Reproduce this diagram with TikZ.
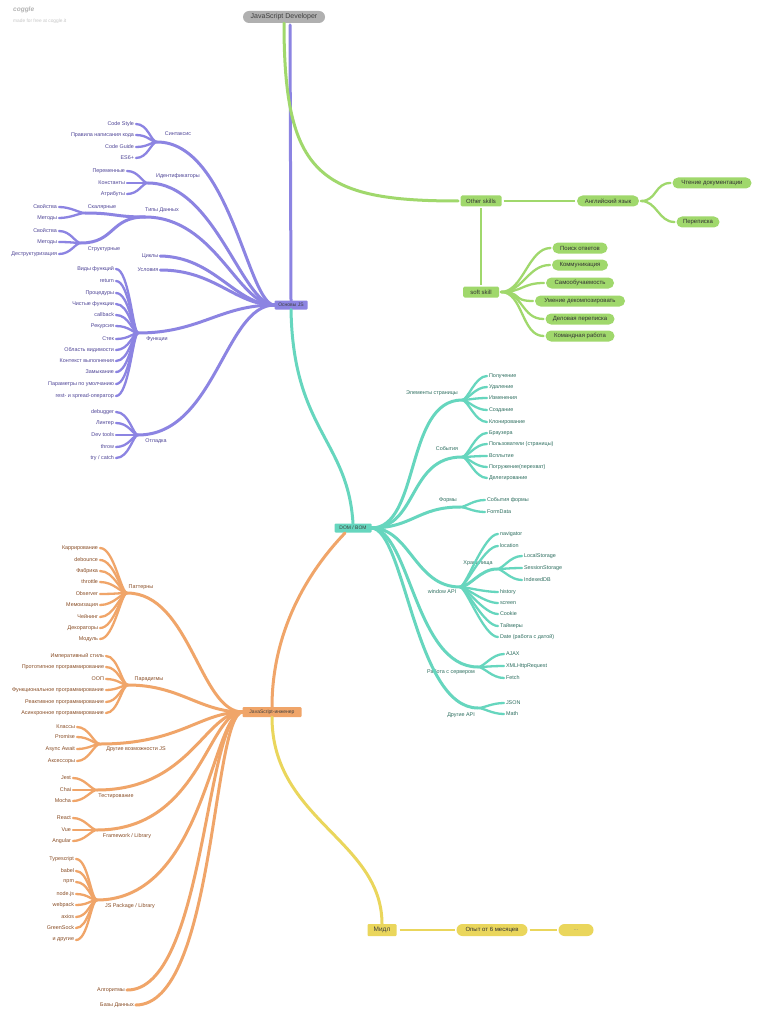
\documentclass[tikz,border=0pt]{standalone}
\usepackage{fontspec}
\setmainfont{Liberation Sans}
\definecolor{cP}{RGB}{140,132,226}
\definecolor{cPt}{RGB}{78,68,150}
\definecolor{cT}{RGB}{102,214,190}
\definecolor{cTt}{RGB}{45,110,95}
\definecolor{cO}{RGB}{240,165,105}
\definecolor{cOt}{RGB}{135,75,35}
\definecolor{cY}{RGB}{234,214,92}
\definecolor{cG}{RGB}{160,216,108}
\definecolor{cGr}{RGB}{176,176,176}
\tikzset{
  lab/.style={inner sep=0.8pt, outer sep=1.2pt, font=\fontsize{5.4}{6}\selectfont},
  plab/.style={lab, text=cPt},
  tlab/.style={lab, text=cTt},
  olab/.style={lab, text=cOt},
  br/.style={line width=3pt, line cap=round},
  lf/.style={line width=2.3pt, line cap=round},
  lvone/.style={font=\fontsize{5}{6}\selectfont, text=black!75, minimum height=9pt, inner xsep=2pt, inner ysep=0pt, rounded corners=1pt, outer sep=0pt},
  gbox/.style={fill=cG, text=black!80, font=\fontsize{6}{7}\selectfont, inner xsep=2pt, inner ysep=0pt, minimum height=11pt, rounded corners=1.5pt, outer sep=2pt},
  gpill/.style={gbox, rounded corners=5.5pt},
  ypill/.style={fill=cY, text=black!80, font=\fontsize{6}{7}\selectfont, inner sep=0pt, minimum height=12pt, rounded corners=6pt, outer sep=2pt},
}
\begin{document}
\begin{tikzpicture}[x=1pt,y=-1pt]
\useasboundingbox (0,0) rectangle (768,1024);
\fill[white] (0,0) rectangle (768,1024);

% logo
\node[anchor=west, inner sep=0, text=black!30, font=\fontsize{6.5}{7}\selectfont\itshape\bfseries] (logo) at (13,10) {coggle};
\node[anchor=west, inner sep=0, text=black!22, font=\fontsize{4.8}{5}\selectfont] (logo2) at (13,21) {made for free at coggle.it};

% main nodes
\node[fill=cGr, text=black!75, rounded corners=6pt, minimum width=82pt, minimum height=12pt, inner sep=0pt, font=\fontsize{7}{8}\selectfont] (root) at (284,17) {JavaScript Developer};
\node[lvone, fill=cP, minimum width=33pt] (osn) at (291,305) {Основы JS};
\node[lvone, fill=cT, minimum width=37pt] (dom) at (353,528) {DOM / BOM};
\node[lvone, fill=cO, minimum width=59pt, minimum height=10pt] (eng) at (272,712) {JavaScript-инженер};
\node[lvone, fill=cY, minimum width=29pt, minimum height=12pt, font=\fontsize{6.5}{7}\selectfont] (midl) at (382,930) {Мидл};
\node[ypill, minimum width=71pt] (exp) at (492,930) {Опыт от 6 месяцев};
\node[ypill, minimum width=35pt, text=black!45] (dots) at (576,930) {...};

\coordinate (rootP) at (290,25);
\coordinate (domO) at (345,533);

% trunk connectors
\draw[cP, br] (rootP) -- (osn.north);
\draw[cG, br] (root.south) .. controls (284,175) and (320,201) .. (458,201) coordinate (osin);
\draw[cT, br] (osn.south) .. controls (293,430) and (348,440) .. (dom.north);
\draw[cO, br] (domO) .. controls (300,580) and (272,640) .. (eng.north);
\draw[cY, br] (eng.south) .. controls (272,820) and (382,840) .. (midl.north);
\draw[cY, line width=2pt] (midl.east) ++(3,0) -- (exp.west);
\draw[cY, line width=2pt] (exp.east) -- (dots.west);

% ---------------- green ----------------
\node[gbox, minimum width=41pt] (os) at (481,201) {Other skills};
\node[gpill, minimum width=62pt] (en) at (608,201) {Английский язык};
\node[gpill, minimum width=79pt] (rd) at (712,183) {Чтение документации};
\node[gpill, minimum width=43pt] (pp) at (698,222) {Переписка};
\node[gbox, minimum width=36pt] (ss) at (481,292) {soft skill};
\draw[cG, line width=2.4pt] (os.east) -- (en.west);
\draw[cG, line width=2.4pt] (os.south) -- (ss.north);
\foreach \n in {rd,pp}{
  \draw[cG, lf] (en.east) .. controls +(16,0) and +(-16,0) .. (\n.west);
}
\foreach \t/\y/\w [count=\i] in {Поиск ответов/248/55, Коммуникация/265/56, Самообучаемость/283/68, Умение декомпозировать/301/90, Деловая переписка/319/69, Командная работа/336/69}{
  \node[gpill, minimum width=\w pt] (sk\i) at (580,\y) {\t};
  \draw[cG, lf] (ss.east) .. controls +(22,0) and +(-22,0) .. (sk\i.west);
}

% ---------------- purple ----------------
\coordinate (jsyn) at (157,142);
\coordinate (jid) at (148,183);
\coordinate (jtd) at (145,217);
\coordinate (jsc) at (85,213);
\coordinate (jst) at (81,243);
\coordinate (jfn) at (138,333);
\coordinate (jot) at (138,435);

\node[plab] (lsyn) at (178,134) {Синтаксис};
\node[plab] (lid) at (178,176) {Идентификаторы};
\node[plab] (ltd) at (162,210) {Типы Данных};
\node[plab] (lsc) at (102,207) {Скалярные};
\node[plab] (lst) at (104,249) {Структурные};
\node[plab] (lcy) at (150,256) {Циклы};
\node[plab] (lus) at (148,270) {Условия};
\node[plab] (lfn) at (157,339) {Функции};
\node[plab] (lot) at (156,441) {Отладка};

\draw[cP, br] (jsyn) .. controls (230,142) and (248,305) .. (osn.west);
\draw[cP, br] (jid) .. controls (215,183) and (242,305) .. (osn.west);
\draw[cP, br] (jtd) .. controls (215,217) and (238,305) .. (osn.west);
\draw[cP, br] (lcy.east) .. controls (215,257) and (235,305) .. (osn.west);
\draw[cP, br] (lus.east) .. controls (215,270) and (235,305) .. (osn.west);
\draw[cP, br] (jfn) .. controls (200,333) and (220,305) .. (osn.west);
\draw[cP, br] (jot) .. controls (215,435) and (225,305) .. (osn.west);
\draw[cP, br] (jsc) .. controls (115,213) and (115,217) .. (jtd);
\draw[cP, br] (jst) .. controls (115,243) and (110,217) .. (jtd);

\foreach \t/\y [count=\i] in {Code Style/124, Правила написания кода/135, Code Guide/147, ES6+/158}{
  \node[plab, anchor=east] (syn\i) at (136,\y) {\t};
  \draw[cP, lf] (syn\i.east) .. controls +(12,0) and +(-6,0) .. (jsyn);
}
\foreach \t/\y [count=\i] in {Переменные/171, Константы/183, Атрибуты/194}{
  \node[plab, anchor=east] (idf\i) at (127,\y) {\t};
  \draw[cP, lf] (idf\i.east) .. controls +(12,0) and +(-6,0) .. (jid);
}
\foreach \t/\y [count=\i] in {Свойства/207, Методы/218}{
  \node[plab, anchor=east] (sc\i) at (59,\y) {\t};
  \draw[cP, lf] (sc\i.east) .. controls +(12,0) and +(-6,0) .. (jsc);
}
\foreach \t/\y [count=\i] in {Свойства/231, Методы/242, Деструктуризация/254}{
  \node[plab, anchor=east] (st\i) at (59,\y) {\t};
  \draw[cP, lf] (st\i.east) .. controls +(12,0) and +(-6,0) .. (jst);
}
\foreach \t/\y [count=\i] in {Виды функций/269, return/281, Процедуры/293, Чистые функции/304, callback/315, Рекурсия/326, Стек/339, Область видимости/350, Контекст выполнения/361, Замыкание/372, Параметры по умолчанию/384, rest- и spread-оператор/396}{
  \node[plab, anchor=east] (fn\i) at (116,\y) {\t};
  \draw[cP, lf] (fn\i.east) .. controls +(13,0) and +(-5,0) .. (jfn);
}
\foreach \t/\y [count=\i] in {debugger/412, Линтер/423, Dev tools/435, throw/447, {try / catch}/458}{
  \node[plab, anchor=east] (ot\i) at (116,\y) {\t};
  \draw[cP, lf] (ot\i.east) .. controls +(13,0) and +(-5,0) .. (jot);
}

% ---------------- teal ----------------
\coordinate (jel) at (462,400);
\coordinate (jev) at (462,457);
\coordinate (jfo) at (460,507);
\coordinate (jwi) at (460,587);
\coordinate (jhr) at (497,569);
\coordinate (jsv) at (478,667);
\coordinate (jdr) at (478,708);

\node[tlab] (lel) at (432,393) {Элементы страницы};
\node[tlab] (lev) at (447,449) {События};
\node[tlab] (lfo) at (448,500) {Формы};
\node[tlab] (lwi) at (442,592) {window API};
\node[tlab] (lhr) at (478,563) {Хранилища};
\node[tlab] (lsv) at (451,672) {Работа с сервером};
\node[tlab] (ldr) at (461,715) {Другие API};

\draw[cT, br] (dom.east) .. controls (420,528) and (405,400) .. (jel);
\draw[cT, br] (dom.east) .. controls (418,528) and (408,457) .. (jev);
\draw[cT, br] (dom.east) .. controls (412,528) and (418,507) .. (jfo);
\draw[cT, br] (dom.east) .. controls (410,528) and (415,587) .. (jwi);
\draw[cT, br] (dom.east) .. controls (410,530) and (415,667) .. (jsv);
\draw[cT, br] (dom.east) .. controls (405,530) and (415,708) .. (jdr);
\draw[cT, br] (jwi) .. controls (470,587) and (480,569) .. (jhr);

\foreach \t/\y [count=\i] in {Получение/376, Удаление/387, Изменения/398, Создание/410, Клонирование/422}{
  \node[tlab, anchor=west] (el\i) at (487,\y) {\t};
  \draw[cT, lf] (jel) .. controls +(6,0) and +(-12,0) .. (el\i.west);
}
\foreach \t/\y [count=\i] in {Браузера/433, Пользователи (страницы)/444, Всплытие/456, Погружение(перехват)/467, Делегирование/478}{
  \node[tlab, anchor=west] (ev\i) at (487,\y) {\t};
  \draw[cT, lf] (jev) .. controls +(6,0) and +(-12,0) .. (ev\i.west);
}
\foreach \t/\y [count=\i] in {События формы/500, FormData/512}{
  \node[tlab, anchor=west] (fo\i) at (485,\y) {\t};
  \draw[cT, lf] (jfo) .. controls +(6,0) and +(-12,0) .. (fo\i.west);
}
\foreach \t/\y [count=\i] in {navigator/534, location/546, history/592, screen/603, Cookie/614, Таймеры/626, Date (работа с датой)/637}{
  \node[tlab, anchor=west] (wi\i) at (498,\y) {\t};
  \draw[cT, lf] (jwi) .. controls +(6,0) and +(-14,0) .. (wi\i.west);
}
\foreach \t/\y [count=\i] in {LocalStorage/556, SessionStorage/568, IndexedDB/580}{
  \node[tlab, anchor=west] (hr\i) at (522,\y) {\t};
  \draw[cT, lf] (jhr) .. controls +(6,0) and +(-12,0) .. (hr\i.west);
}
\foreach \t/\y [count=\i] in {AJAX/654, XMLHttpRequest/666, Fetch/678}{
  \node[tlab, anchor=west] (sv\i) at (504,\y) {\t};
  \draw[cT, lf] (jsv) .. controls +(6,0) and +(-12,0) .. (sv\i.west);
}
\foreach \t/\y [count=\i] in {JSON/703, Math/714}{
  \node[tlab, anchor=west] (dr\i) at (504,\y) {\t};
  \draw[cT, lf] (jdr) .. controls +(6,0) and +(-12,0) .. (dr\i.west);
}

% ---------------- orange ----------------
\coordinate (jpa) at (127,593);
\coordinate (jpd) at (128,685);
\coordinate (jdj) at (100,744);
\coordinate (jte) at (97,790);
\coordinate (jfw) at (97,830);
\coordinate (jpk) at (97,900);

\node[olab] (lpa) at (141,587) {Паттерны};
\node[olab] (lpd) at (149,679) {Парадигмы};
\node[olab] (ldj) at (136,749) {Другие возможности JS};
\node[olab] (lte) at (116,796) {Тестирование};
\node[olab] (lfw) at (127,836) {Framework / Library};
\node[olab] (lpk) at (130,906) {JS Package / Library};
\node[olab] (lal) at (111,990) {Алгоритмы};
\node[olab] (lbd) at (117,1005) {Базы Данных};

\draw[cO, br] (jpa) .. controls (190,593) and (200,712) .. (eng.west);
\draw[cO, br] (jpd) .. controls (180,685) and (200,712) .. (eng.west);
\draw[cO, br] (jdj) .. controls (180,744) and (200,712) .. (eng.west);
\draw[cO, br] (jte) .. controls (190,790) and (205,712) .. (eng.west);
\draw[cO, br] (jfw) .. controls (200,830) and (208,712) .. (eng.west);
\draw[cO, br] (jpk) .. controls (205,900) and (212,712) .. (eng.west);
\draw[cO, br] (lal.east) .. controls (205,991) and (205,715) .. (eng.west);
\draw[cO, br] (lbd.east) .. controls (215,1005) and (212,715) .. (eng.west);

\foreach \t/\y [count=\i] in {Каррирование/548, debounce/560, Фабрика/571, throttle/582, Observer/594, Мемоизация/605, Чейнинг/617, Декораторы/628, Модуль/639}{
  \node[olab, anchor=east] (pa\i) at (100,\y) {\t};
  \draw[cO, lf] (pa\i.east) .. controls +(14,0) and +(-6,0) .. (jpa);
}
\foreach \t/\y [count=\i] in {Императивный стиль/656, Прототипное программирование/667, ООП/679, Функциональное программирование/690, Реактивное программирование/702, Асинхронное программирование/713}{
  \node[olab, anchor=east] (pd\i) at (106,\y) {\t};
  \draw[cO, lf] (pd\i.east) .. controls +(12,0) and +(-6,0) .. (jpd);
}
\foreach \t/\y [count=\i] in {Классы/727, Promise/737, Async Await/749, Аксессоры/761}{
  \node[olab, anchor=east] (dj\i) at (77,\y) {\t};
  \draw[cO, lf] (dj\i.east) .. controls +(12,0) and +(-6,0) .. (jdj);
}
\foreach \t/\y [count=\i] in {Jest/778, Chai/790, Mocha/801}{
  \node[olab, anchor=east] (te\i) at (73,\y) {\t};
  \draw[cO, lf] (te\i.east) .. controls +(12,0) and +(-6,0) .. (jte);
}
\foreach \t/\y [count=\i] in {React/818, Vue/830, Angular/841}{
  \node[olab, anchor=east] (fw\i) at (73,\y) {\t};
  \draw[cO, lf] (fw\i.east) .. controls +(12,0) and +(-6,0) .. (jfw);
}
\foreach \t/\y [count=\i] in {Typescript/859, babel/871, npm/882, node.js/894, webpack/905, axios/917, GreenSock/928, и другие/940}{
  \node[olab, anchor=east] (pk\i) at (76,\y) {\t};
  \draw[cO, lf] (pk\i.east) .. controls +(12,0) and +(-6,0) .. (jpk);
}
\end{tikzpicture}
\end{document}
